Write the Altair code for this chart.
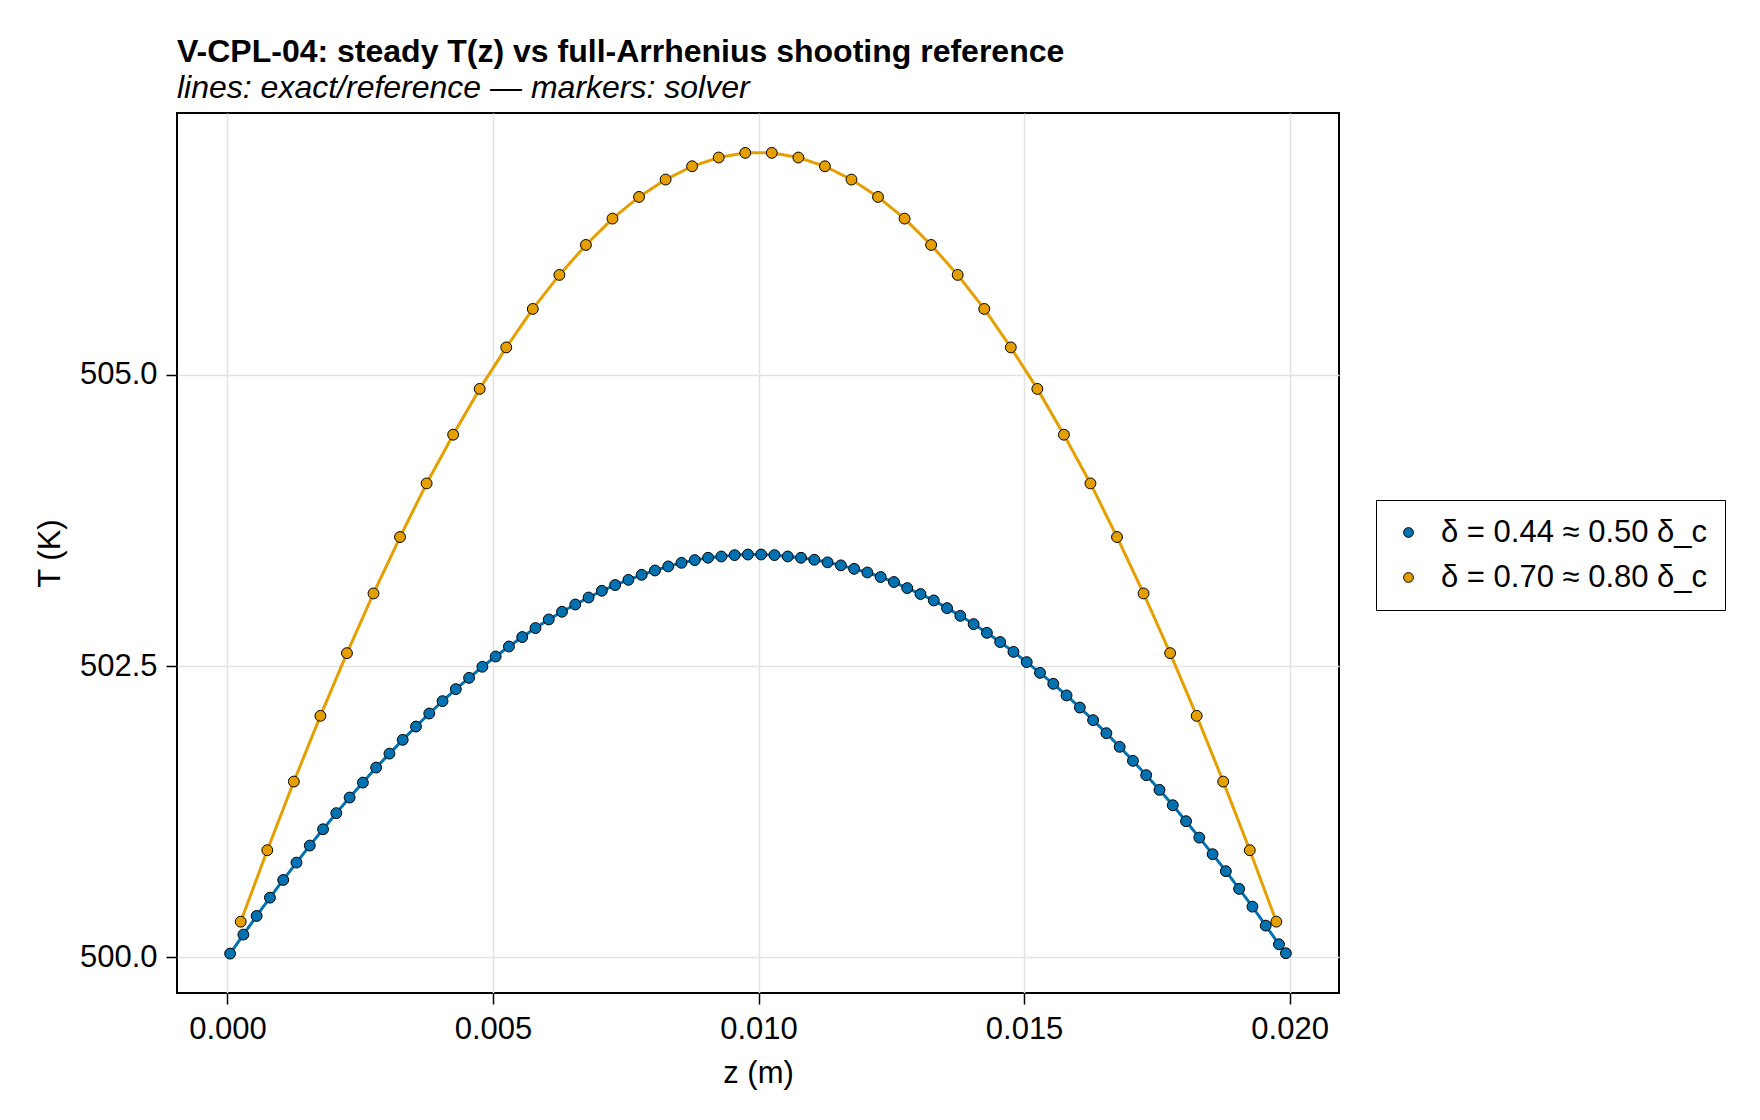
import altair as alt
import pandas as pd

blue_label = "δ = 0.44 ≈ 0.50 δ_c"
orange_label = "δ = 0.70 ≈ 0.80 δ_c"
series_labels = [blue_label, orange_label]
series_colors = ["#0072B2", "#E69F00"]

z_blue = [0.00005, 0.00030, 0.00055, 0.00080, 0.00105, 0.00130, 0.00155, 0.00180, 0.00205, 0.00230,
          0.00255, 0.00280, 0.00305, 0.00330, 0.00355, 0.00380, 0.00405, 0.00430, 0.00455, 0.00480,
          0.00505, 0.00530, 0.00555, 0.00580, 0.00605, 0.00630, 0.00655, 0.00680, 0.00705, 0.00730,
          0.00755, 0.00780, 0.00805, 0.00830, 0.00855, 0.00880, 0.00905, 0.00930, 0.00955, 0.00980,
          0.01005, 0.01030, 0.01055, 0.01080, 0.01105, 0.01130, 0.01155, 0.01180, 0.01205, 0.01230,
          0.01255, 0.01280, 0.01305, 0.01330, 0.01355, 0.01380, 0.01405, 0.01430, 0.01455, 0.01480,
          0.01505, 0.01530, 0.01555, 0.01580, 0.01605, 0.01630, 0.01655, 0.01680, 0.01705, 0.01730,
          0.01755, 0.01780, 0.01805, 0.01830, 0.01855, 0.01880, 0.01905, 0.01930, 0.01955, 0.01980,
          0.01993]
T_blue = [500.033, 500.196, 500.356, 500.513, 500.665, 500.814, 500.960, 501.100, 501.238, 501.372,
          501.500, 501.629, 501.749, 501.867, 501.981, 502.093, 502.199, 502.302, 502.399, 502.494,
          502.582, 502.668, 502.749, 502.826, 502.900, 502.966, 503.028, 503.088, 503.146, 503.195,
          503.240, 503.283, 503.320, 503.355, 503.386, 503.409, 503.429, 503.440, 503.452, 503.457,
          503.457, 503.452, 503.440, 503.429, 503.412, 503.390, 503.364, 503.334, 503.303, 503.264,
          503.221, 503.169, 503.118, 503.063, 502.997, 502.931, 502.860, 502.785, 502.706, 502.622,
          502.534, 502.442, 502.348, 502.248, 502.144, 502.036, 501.924, 501.807, 501.687, 501.564,
          501.438, 501.306, 501.169, 501.028, 500.886, 500.740, 500.588, 500.436, 500.273, 500.113,
          500.036]

z_orange = [0.00025, 0.00075, 0.00125, 0.00175, 0.00225, 0.00275, 0.00325, 0.00375, 0.00425, 0.00475,
            0.00525, 0.00575, 0.00625, 0.00675, 0.00725, 0.00775, 0.00825, 0.00875, 0.00925, 0.00975,
            0.01025, 0.01075, 0.01125, 0.01175, 0.01225, 0.01275, 0.01325, 0.01375, 0.01425, 0.01475,
            0.01525, 0.01575, 0.01625, 0.01675, 0.01725, 0.01775, 0.01825, 0.01875, 0.01925, 0.01975]
T_orange = [500.307, 500.920, 501.509, 502.073, 502.611, 503.123, 503.607, 504.067, 504.485, 504.878,
            505.234, 505.564, 505.856, 506.113, 506.339, 506.525, 506.674, 506.788, 506.863, 506.903,
            506.903, 506.863, 506.788, 506.674, 506.525, 506.339, 506.113, 505.856, 505.564, 505.234,
            504.878, 504.485, 504.067, 503.607, 503.123, 502.611, 502.073, 501.509, 500.920, 500.307]

x_ticks = [0.0, 0.005, 0.010, 0.015, 0.020]
y_ticks = [500.0, 502.5, 505.0]

df_b = pd.DataFrame({"z": z_blue, "T": T_blue, "series": blue_label})
df_o = pd.DataFrame({"z": z_orange, "T": T_orange, "series": orange_label})

FONT = "Liberation Sans"
FS = 32
LFS = 31

xenc = alt.X("z:Q", title="z (m)",
             scale=alt.Scale(domain=[-0.00095, 0.02093], nice=False, zero=False),
             axis=alt.Axis(values=x_ticks, format=".3f"))
yenc = alt.Y("T:Q", title="T (K)",
             scale=alt.Scale(domain=[499.695, 507.245], nice=False, zero=False),
             axis=alt.Axis(values=y_ticks, format=".1f"))

color_scale = alt.Scale(domain=series_labels, range=series_colors)
legend = alt.Legend(title=None, orient="none", legendX=1199, legendY=387,
                    symbolType="circle", symbolSize=95, symbolStrokeColor="black",
                    symbolStrokeWidth=1, labelFont=FONT, labelFontSize=LFS, labelLimit=1000,
                    labelColor="black",
                    strokeColor="black", fillColor="white", padding=17,
                    rowPadding=13, labelOffset=17)

def line(df, col):
    return alt.Chart(df).mark_line(color=col, strokeWidth=3).encode(x=xenc, y=yenc)

def pts(df):
    return alt.Chart(df).mark_point(filled=True, size=118, stroke="black", strokeWidth=1,
                                    opacity=1, shape="circle").encode(
        x=xenc, y=yenc,
        color=alt.Color("series:N", scale=color_scale, legend=legend))

chart = alt.layer(
    line(df_b, series_colors[0]), pts(df_b),
    line(df_o, series_colors[1]), pts(df_o),
).properties(
    width=1162, height=880,
    title=alt.TitleParams(
        text="V-CPL-04: steady T(z) vs full-Arrhenius shooting reference",
        subtitle="lines: exact/reference — markers: solver",
        anchor="start", frame="group", font=FONT, fontSize=FS, fontWeight="bold",
        subtitleFont=FONT, subtitleFontSize=FS, subtitleFontStyle="italic",
        subtitleColor="black", color="black", offset=8, subtitlePadding=4),
    padding={"left": 177, "top": 113, "right": 421, "bottom": 127},
    autosize=alt.AutoSizeParams(type="none"),
).configure_view(
    stroke="black", strokeWidth=2
).configure_axis(
    domain=False, grid=True, gridColor="#e2e2e2", gridWidth=1.5,
    ticks=True, tickColor="black", tickSize=11, tickWidth=1.5,
    labelFont=FONT, labelFontSize=LFS, labelColor="black",
    titleFont=FONT, titleFontSize=LFS, titleFontWeight="normal", titleColor="black",
).configure_axisX(titlePadding=14, labelPadding=10).configure_axisY(titlePadding=13, labelPadding=9)

chart.save("out.html", embed_options={"renderer": "svg", "actions": False})
